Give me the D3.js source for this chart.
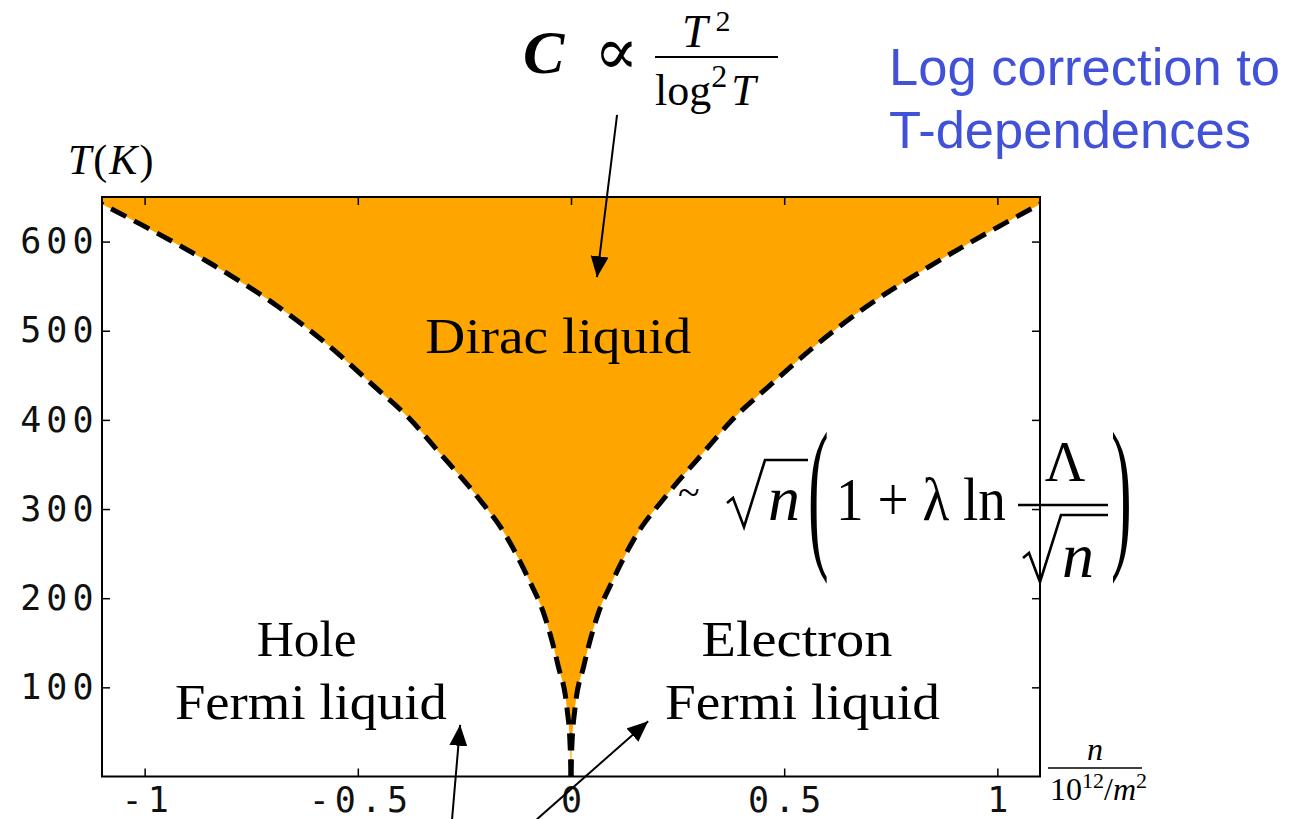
<!DOCTYPE html>
<html>
<head>
<meta charset="utf-8">
<script src="https://cdn.jsdelivr.net/npm/d3@7"></script>
<style>
  body { margin: 0; background: #fff; }
  svg { display: block; }
  .tick text { font-family: "DejaVu Sans Mono", monospace; font-size: 35px; letter-spacing: 5px; fill: #111; }
  .serif { font-family: "Liberation Serif", "DejaVu Serif", serif; fill: #000; }
</style>
</head>
<body>
<svg id="chart" width="1292" height="819"></svg>
<script>
// ticks
const xTicks = [-1, -0.5, 0, 0.5, 1]
const xTickLabels = ['-1', '-0.5', '0', '0.5', '1']
const yTicks = [100, 200, 300, 400, 500, 600]
const yTickLabels = ['100', '200', '300', '400', '500', '600']

// crossover line, electron side (n > 0)
const electronN = [0, 0.002, 0.009, 0.03, 0.064, 0.098, 0.155, 0.22, 0.31, 0.38, 0.46, 0.575, 0.69, 0.84, 1.0, 1.1]
const electronT = [0, 34, 75, 124, 183, 220, 272, 313, 363, 401, 436, 484, 526, 572, 616, 642]
// hole side (n < 0), listed from the left edge in
const holeN = [-1.1, -1.0, -0.84, -0.69, -0.575, -0.46, -0.38, -0.31, -0.22, -0.155, -0.098, -0.064, -0.03, -0.009, -0.002, 0]
const holeT = [642, 617, 574, 528, 486, 437, 402, 364, 314, 272, 220, 183, 124, 75, 34, 0]

// arrows in data units [n0, T0, n1, T1]
const arrows = [
  [0.108, 742, 0.061, 560],
  [-0.279, -48, -0.260, 58],
  [-0.080, -48, 0.181, 62]
]

const svg = d3.select('#chart')

const x = d3.scaleLinear().domain([-1.1, 1.1]).range([102, 1040])
const y = d3.scaleLinear().domain([0, 650]).range([776.5, 197])

const electron = electronN.map((n, i) => [n, electronT[i]])
const hole = holeN.map((n, i) => [n, holeT[i]])

const line = d3.line()
  .x(d => x(d[0]))
  .y(d => y(d[1]))
  .curve(d3.curveMonotoneX)

// orange Dirac region
const boundary = hole.concat(electron.slice(1))
svg.append('path')
  .attr('d', line(boundary) + `L${x(1.1)},${y(650)}L${x(-1.1)},${y(650)}Z`)
  .attr('fill', '#FFA500')

// dashed crossover lines, both drawn outward from n = 0
;[hole.slice().reverse(), electron].forEach(b => {
  svg.append('path')
    .attr('d', line(b))
    .attr('fill', 'none')
    .attr('stroke', '#000')
    .attr('stroke-width', 5)
    .attr('stroke-dasharray', '17,9')
})

// frame
svg.append('rect')
  .attr('x', x(-1.1))
  .attr('y', y(650))
  .attr('width', x(1.1) - x(-1.1))
  .attr('height', y(0) - y(650))
  .attr('fill', 'none')
  .attr('stroke', '#000')
  .attr('stroke-width', 2)

const styleAxis = g => {
  g.select('.domain').remove()
  g.selectAll('.tick line').attr('stroke', '#000').attr('stroke-width', 1.5)
}

svg.append('g')
  .attr('transform', `translate(0,${y(0)})`)
  .call(d3.axisBottom(x).tickValues(xTicks).tickFormat((d, i) => xTickLabels[i]).tickSize(-8).tickPadding(11))
  .call(styleAxis)

svg.append('g')
  .attr('transform', `translate(${x(-1.1)},0)`)
  .call(d3.axisLeft(y).tickValues(yTicks).tickFormat((d, i) => yTickLabels[i]).tickSize(-8).tickPadding(6))
  .call(styleAxis)

svg.append('g')
  .attr('transform', `translate(0,${y(650)})`)
  .call(d3.axisTop(x).tickValues(xTicks).tickFormat('').tickSize(-8))
  .call(styleAxis)

svg.append('g')
  .attr('transform', `translate(${x(1.1)},0)`)
  .call(d3.axisRight(y).tickValues(yTicks).tickFormat('').tickSize(-8))
  .call(styleAxis)

// bottom labels: compensate the trailing letter-spacing
svg.selectAll('.tick text').attr('dx', function () { return d3.select(this).attr('text-anchor') === 'end' ? null : 2.5 })

// region labels
const label = (txt, n, t, len) => svg.append('text')
  .attr('class', 'serif')
  .attr('x', x(n)).attr('y', y(t))
  .attr('text-anchor', 'middle')
  .attr('font-size', 50)
  .attr('textLength', len)
  .attr('lengthAdjust', 'spacingAndGlyphs')
  .text(txt)

label('Dirac liquid', -0.03, 475, 266)
label('Hole', -0.62, 135, 100)
label('Fermi liquid', -0.61, 65, 272)
label('Electron', 0.53, 135, 191)
label('Fermi liquid', 0.543, 65, 275)

// axis titles
const tk = svg.append('text').attr('class', 'serif').attr('x', 68).attr('y', 174).attr('font-size', 42)
  .attr('letter-spacing', 2)
tk.append('tspan').attr('font-style', 'italic').text('T')
tk.append('tspan').text('(')
tk.append('tspan').attr('font-style', 'italic').text('K')
tk.append('tspan').text(')')

svg.append('text').attr('class', 'serif').attr('x', 1095).attr('y', 760)
  .attr('text-anchor', 'middle').attr('font-size', 32).attr('font-style', 'italic').text('n')
svg.append('line').attr('x1', 1048).attr('x2', 1142).attr('y1', 768).attr('y2', 768)
  .attr('stroke', '#000').attr('stroke-width', 1.5)
const den = svg.append('text').attr('class', 'serif').attr('x', 1050).attr('y', 800).attr('font-size', 32)
den.append('tspan').text('10')
den.append('tspan').attr('font-size', 22).attr('dy', -12).text('12')
den.append('tspan').attr('dy', 12).text('/')
den.append('tspan').attr('font-style', 'italic').text('m')
den.append('tspan').attr('font-size', 22).attr('dy', -12).text('2')

// C ~ T^2 / log^2 T
svg.append('text').attr('class', 'serif').attr('x', 523).attr('y', 73)
  .attr('font-size', 62).attr('font-style', 'italic').attr('font-weight', 'bold').text('C')
svg.append('text').attr('class', 'serif').attr('x', 594).attr('y', 74)
  .attr('font-size', 66).text('\u221D')
svg.append('line').attr('x1', 655).attr('x2', 778).attr('y1', 57).attr('y2', 57)
  .attr('stroke', '#000').attr('stroke-width', 2)
const num = svg.append('text').attr('class', 'serif').attr('x', 682).attr('y', 47).attr('font-size', 46)
num.append('tspan').attr('font-style', 'italic').text('T')
num.append('tspan').attr('font-size', 30).attr('dx', 8).attr('dy', -16).text('2')
const lg = svg.append('text').attr('class', 'serif').attr('x', 655).attr('y', 105).attr('font-size', 44)
lg.append('tspan').text('log')
lg.append('tspan').attr('font-size', 32).attr('dy', -18).text('2')
lg.append('tspan').attr('font-style', 'italic').attr('dx', 4).attr('dy', 18).text('T')

// ~ sqrt(n) (1 + lambda ln Lambda / sqrt(n))
svg.append('text').attr('class', 'serif').attr('x', 678).attr('y', 506).attr('font-size', 40).text('~')
const radical = (xh, top, bottom, x1) => {
  svg.append('path')
    .attr('d', `M${xh},${bottom - 24}L${xh + 6},${bottom - 29}L${xh + 17},${bottom}L${xh + 38},${top}L${x1},${top}`)
    .attr('fill', 'none')
    .attr('stroke', '#000')
    .attr('stroke-width', 2.6)
    .attr('stroke-linejoin', 'miter')
}
radical(727, 460, 527, 808)
svg.append('text').attr('class', 'serif').attr('x', 768).attr('y', 520)
  .attr('font-size', 64).attr('font-style', 'italic').text('n')
const paren = (ch, px) => svg.append('text').attr('class', 'serif')
  .attr('transform', `translate(${px},548) scale(1,2.7)`)
  .attr('font-size', 62).text(ch)
paren('(', 808)
paren(')', 1111)
svg.append('text').attr('class', 'serif').attr('x', 836).attr('y', 520)
  .attr('font-size', 62).attr('textLength', 170).attr('lengthAdjust', 'spacingAndGlyphs')
  .text('1 + \u03BB ln')
svg.append('line').attr('x1', 1018).attr('x2', 1108).attr('y1', 505).attr('y2', 505)
  .attr('stroke', '#000').attr('stroke-width', 2.5)
svg.append('text').attr('class', 'serif').attr('x', 1065).attr('y', 481)
  .attr('text-anchor', 'middle').attr('font-size', 56).text('\u039B')
radical(1023, 515, 582, 1108)
svg.append('text').attr('class', 'serif').attr('x', 1062).attr('y', 577)
  .attr('font-size', 64).attr('font-style', 'italic').text('n')

// blue note
const note = svg.append('text').attr('x', 889).attr('y', 85)
  .attr('font-family', '"Liberation Sans", Arial, sans-serif').attr('font-size', 52.5).attr('fill', '#4152D8')
note.append('tspan').text('Log correction to')
note.append('tspan').attr('x', 889).attr('y', 148).text('T-dependences')

// arrows
svg.append('defs').append('marker')
  .attr('id', 'head')
  .attr('markerUnits', 'userSpaceOnUse')
  .attr('viewBox', '0 0 21 18')
  .attr('refX', 21).attr('refY', 9)
  .attr('markerWidth', 21).attr('markerHeight', 18)
  .attr('orient', 'auto')
  .append('path').attr('d', 'M0,0L21,9L0,18Z').attr('fill', '#000')

svg.selectAll('.arrow')
  .data(arrows)
  .enter()
  .append('line')
  .attr('class', 'arrow')
  .attr('x1', d => x(d[0])).attr('y1', d => y(d[1]))
  .attr('x2', d => x(d[2])).attr('y2', d => y(d[3]))
  .attr('stroke', '#000')
  .attr('stroke-width', 2)
  .attr('marker-end', 'url(#head)')
</script>
</body>
</html>
